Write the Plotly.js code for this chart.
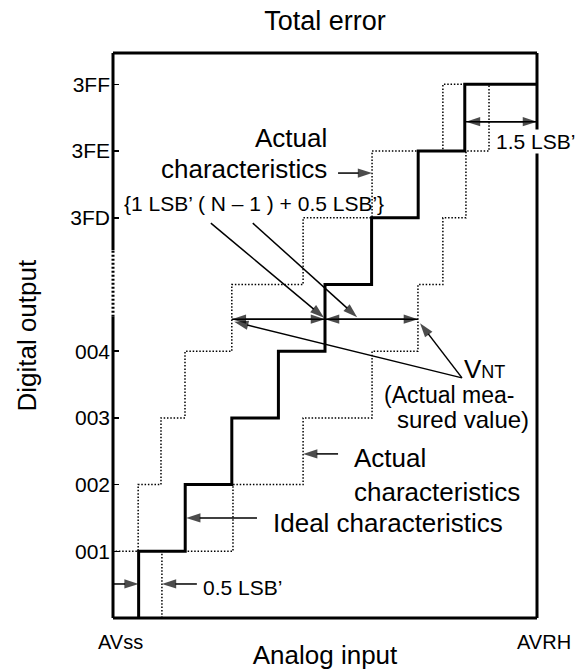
<!DOCTYPE html>
<html><head><meta charset="utf-8">
<script src="https://cdn.plot.ly/plotly-3.0.1.min.js"></script>
<style>html,body{margin:0;padding:0;background:#fff}#chart{width:576px;height:670px}</style>
</head><body><div id="chart"></div>
<script>
// ---- data ----
const codeLevels = [0, 1, 2, 3, 4, 5, 6, 7, 8];
const tickLevels = [1, 2, 3, 4, 6, 7, 8];
const tickLabels = ['001', '002', '003', '004', '3FD', '3FE', '3FF'];
// input (in LSB') at which each staircase steps up into the next code
const idealEdges       = [0.55, 1.55, 2.55, 3.55, 4.55, 5.55, 6.55, 7.55, 9.1];
const actualLeftEdges  = [0, 0.54, 1.03, 1.545, 2.55, 4.08, 5.56, 7.08, 9.1];
const actualRightEdges = [1.05, 2.575, 4.08, 5.56, 6.545, 7.08, 7.575, 8.07, 9.1];
const xEnds = [0, 9.1];
const xEndLabels = ['AVss', 'AVRH'];
// arrows: [tailX, tailY, tipX, tipY]
const arrows = [
  [4.83, 6.67, 5.56, 6.67],
  [2.10, 5.92, 4.53, 4.50],
  [3.00, 5.92, 5.24, 4.51],
  [4.55, 4.48, 2.55, 4.48],
  [2.55, 4.48, 4.55, 4.48],
  [6.545, 4.48, 4.55, 4.48],
  [4.55, 4.48, 6.545, 4.48],
  [7.49, 3.60, 2.60, 4.44],
  [7.49, 3.60, 6.59, 4.42],
  [9.1, 7.44, 7.575, 7.44],
  [7.575, 7.44, 9.1, 7.44],
  [4.83, 2.46, 4.08, 2.46],
  [3.09, 1.50, 1.57, 1.50],
  [1.80, 0.51, 1.05, 0.51],
  [0.0, 0.51, 0.55, 0.51]
];
// labels: [text, x, y, xanchor, fontSize, bg]
const labels = [
  ['Actual', 4.61, 7.20, 'right', 26, false],
  ['characteristics', 4.61, 6.73, 'right', 26, false],
  ['{1 LSB’ ( N – 1 ) + 0.5 LSB’}', 3.02, 6.22, 'center', 21, false],
  ['1.5 LSB’', 8.20, 7.15, 'left', 21, true],
  ['V<span style="font-size:18px">NT</span>', 7.51, 3.73, 'left', 26, false],
  ['(Actual mea-', 7.21, 3.34, 'center', 23, false],
  ['sured value)', 7.52, 2.98, 'center', 24, false],
  ['Actual', 5.15, 2.40, 'left', 26, false],
  ['characteristics', 5.15, 1.89, 'left', 26, false],
  ['Ideal characteristics', 3.41, 1.42, 'left', 26, false],
  ['0.5 LSB’', 1.91, 0.46, 'left', 21, false]
];

// ---- build ----
const FONT = 'Liberation Sans, Arial, Helvetica, sans-serif';
const traces = [];
function stair(xs, dotted) {
  return {
    type: 'scatter', mode: 'lines', x: xs, y: codeLevels,
    line: dotted ? {shape: 'vh', color: '#000', width: 1.5, dash: '1.5px,1.8px'}
                 : {shape: 'vh', color: '#000', width: 3},
    hoverinfo: 'skip', showlegend: false
  };
}
traces.push(stair(actualLeftEdges, true));
traces.push(stair(actualRightEdges, true));
traces.push(stair(idealEdges, false));
arrows.forEach(a => {
  traces.push({
    type: 'scatter', mode: 'lines+markers', x: [a[0], a[2]], y: [a[1], a[3]],
    line: {color: '#000', width: 1.5},
    marker: {symbol: 'arrow', angleref: 'previous', size: [0, 15], color: '#000', line: {width: 0}},
    hoverinfo: 'skip', showlegend: false, cliponaxis: false
  });
});

const annotations = labels.map(l => ({
  text: l[0], x: l[1], y: l[2], xref: 'x', yref: 'y', xanchor: l[3], yanchor: 'middle',
  showarrow: false, font: {family: FONT, size: l[4], color: '#000'},
  bgcolor: l[5] ? '#fff' : 'rgba(0,0,0,0)', borderpad: 0
}));
xEnds.forEach((xv, i) => annotations.push({
  text: xEndLabels[i], x: xv, y: -0.043, xref: 'x', yref: 'paper', xanchor: 'center', yanchor: 'middle',
  xshift: 7, showarrow: false, font: {family: FONT, size: 20, color: '#000'}
}));
// y-axis title placed precisely
annotations.push({
  text: 'Digital output', xref: 'paper', yref: 'paper', x: -0.205, y: 0.5,
  xanchor: 'center', yanchor: 'middle', textangle: -90, showarrow: false,
  font: {family: FONT, size: 26, color: '#000'}
});

const shapes = [
  {type: 'line', xref: 'paper', yref: 'paper', x0: 0, x1: 1, y0: 0, y1: 0, line: {color: '#000', width: 3}},
  {type: 'line', xref: 'paper', yref: 'paper', x0: 1, x1: 1, y0: 0, y1: 1, line: {color: '#000', width: 3}},
  {type: 'line', xref: 'paper', yref: 'paper', x0: 0, x1: 1, y0: 1, y1: 1, line: {color: '#000', width: 3}},
  {type: 'line', xref: 'paper', yref: 'paper', x0: 0, x1: 0, y0: 0, y1: 0.533, line: {color: '#000', width: 3}},
  {type: 'line', xref: 'paper', yref: 'paper', x0: 0, x1: 0, y0: 0.533, y1: 0.651, line: {color: '#000', width: 3, dash: '2px,2px'}},
  {type: 'line', xref: 'paper', yref: 'paper', x0: 0, x1: 0, y0: 0.651, y1: 1, line: {color: '#000', width: 3}}
];

const layout = {
  width: 576, height: 670,
  margin: {l: 113, r: 39, t: 53, b: 52},
  paper_bgcolor: '#fff', plot_bgcolor: '#fff',
  font: {family: FONT, color: '#000'},
  title: {text: 'Total error', font: {family: FONT, size: 27, color: '#000'},
          xref: 'paper', x: 0.5, xanchor: 'center', yref: 'container', y: 1 - 21 / 670, yanchor: 'middle'},
  xaxis: {range: [0, 9.1], showgrid: false, zeroline: false, showline: false, ticks: '',
          showticklabels: false, fixedrange: true,
          title: {text: 'Analog input', font: {family: FONT, size: 26, color: '#000'}, standoff: 28}},
  yaxis: {range: [0, 8.47], showgrid: false, zeroline: false, showline: false,
          tickmode: 'array', tickvals: tickLevels, ticktext: tickLabels,
          ticks: 'inside', ticklen: 6, tickwidth: 1.5, tickcolor: '#000', ticklabelstandoff: 2,
          tickfont: {family: FONT, size: 21, color: '#000'}, fixedrange: true},
  shapes: shapes,
  annotations: annotations
};
Plotly.newPlot('chart', traces, layout, {displayModeBar: false, staticPlot: true});
</script></body></html>
